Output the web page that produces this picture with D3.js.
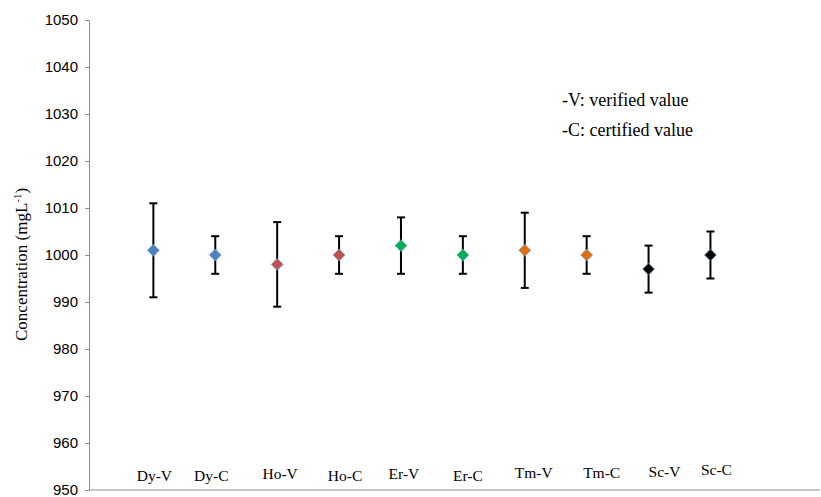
<!DOCTYPE html>
<html>
<head>
<meta charset="utf-8">
<script src="https://cdn.jsdelivr.net/npm/d3@7"></script>
<style>
  body { margin: 0; background: #fff; }
  svg { display: block; }
</style>
</head>
<body>
<svg width="821" height="497"></svg>
<script>
"use strict";

const categories = ['Dy-V', 'Dy-C', 'Ho-V', 'Ho-C', 'Er-V', 'Er-C', 'Tm-V', 'Tm-C', 'Sc-V', 'Sc-C'];
const values = [1001, 1000, 998, 1000, 1002, 1000, 1001, 1000, 997, 1000];
const errors = [10, 4, 9, 4, 6, 4, 8, 4, 5, 5];
const yTicks = [950, 960, 970, 980, 990, 1000, 1010, 1020, 1030, 1040, 1050];
const legendLines = ['-V: verified value', '-C: certified value'];

const colorMapping = {
    Dy: '#4f81bd',
    Ho: '#c0504d',
    Er: '#00b050',
    Tm: '#e46c0a',
    Sc: '#000000'
};

// hand placed text boxes in the original, slightly off the points
const labelNudge = [[1, 0], [-4, 0], [3, -2], [6, 0], [3, -2], [5, 0], [9, -3], [15, -3], [16, -4], [6, -6]];

const data = categories.map((c, i) => ({
    name: c,
    el: c.split('-')[0],
    value: values[i],
    err: errors[i]
}));

const svg = d3.select('svg');

const x = d3.scaleLinear().domain([-1.04, 10.77]).range([89, 820]);
const y = d3.scaleLinear().domain([950, 1050]).range([490, 20]);

// y axis
const yAxis = svg.append('g')
    .attr('transform', 'translate(89,0)')
    .call(d3.axisLeft(y).tickValues(yTicks).tickFormat(d3.format('d'))
        .tickSize(4).tickSizeOuter(0).tickPadding(7));
yAxis.select('.domain').attr('stroke', '#8c8c8c');
yAxis.selectAll('.tick line').attr('stroke', '#8c8c8c');
yAxis.selectAll('.tick text')
    .attr('fill', '#000')
    .attr('font-family', '"Liberation Sans", Arial, sans-serif')
    .attr('font-size', '15px');

// x axis line
svg.append('line')
    .attr('x1', x(-1.04)).attr('x2', x(10.77))
    .attr('y1', y(950)).attr('y2', y(950))
    .attr('stroke', '#8c8c8c');

// axis title
const title = svg.append('text')
    .attr('transform', `translate(27,${(y(1019) + y(977)) / 2}) rotate(-90)`)
    .attr('text-anchor', 'middle')
    .attr('font-family', '"Liberation Serif", "Times New Roman", serif')
    .attr('font-size', '17px')
    .attr('fill', '#000');
title.append('tspan').text('Concentration (mgL');
title.append('tspan').attr('font-size', '11px').attr('dy', '-6').text('-1');
title.append('tspan').attr('dy', '6').text(')');

// error bars
const bars = svg.append('g').selectAll('g')
    .data(data)
    .enter().append('g')
    .attr('stroke', '#000')
    .attr('stroke-width', 2);
bars.append('line')
    .attr('x1', (d, i) => x(i)).attr('x2', (d, i) => x(i))
    .attr('y1', d => y(d.value + d.err)).attr('y2', d => y(d.value - d.err));
bars.append('line')
    .attr('x1', (d, i) => x(i) - 4).attr('x2', (d, i) => x(i) + 4)
    .attr('y1', d => y(d.value + d.err)).attr('y2', d => y(d.value + d.err));
bars.append('line')
    .attr('x1', (d, i) => x(i) - 4).attr('x2', (d, i) => x(i) + 4)
    .attr('y1', d => y(d.value - d.err)).attr('y2', d => y(d.value - d.err));

// markers
const diamond = d3.symbol().type(d3.symbolDiamond2).size(90);
svg.append('g').selectAll('path')
    .data(data)
    .enter().append('path')
    .attr('transform', (d, i) => `translate(${x(i)},${y(d.value)})`)
    .attr('d', diamond)
    .attr('fill', d => colorMapping[d.el])
    .attr('stroke', '#6f9bd6')
    .attr('stroke-width', 0.8);

// category labels
svg.append('g').selectAll('text')
    .data(data)
    .enter().append('text')
    .attr('x', (d, i) => x(i) + labelNudge[i][0])
    .attr('y', (d, i) => 481 + labelNudge[i][1])
    .attr('text-anchor', 'middle')
    .attr('font-family', '"Liberation Serif", "Times New Roman", serif')
    .attr('font-size', '15.5px')
    .attr('fill', '#000')
    .text(d => d.name);

// legend note
svg.append('g').selectAll('text')
    .data(legendLines)
    .enter().append('text')
    .attr('x', 562)
    .attr('y', (d, i) => 106 + i * 30)
    .attr('font-family', '"Liberation Serif", "Times New Roman", serif')
    .attr('font-size', '18px')
    .attr('fill', '#000')
    .text(d => d);
</script>
</body>
</html>
